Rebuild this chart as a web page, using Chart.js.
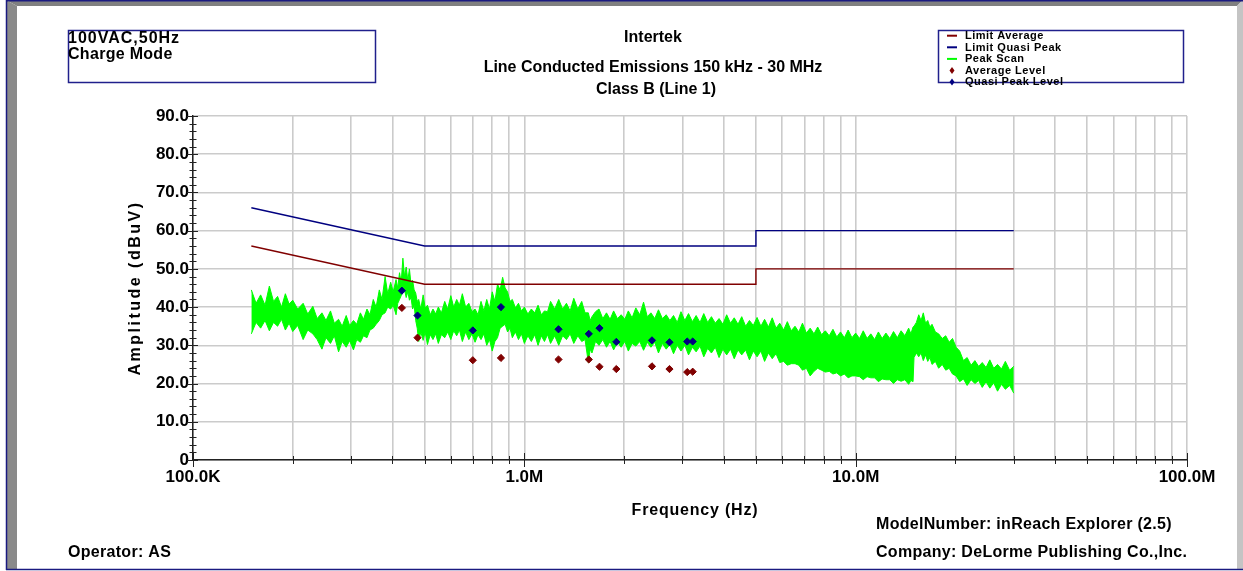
<!DOCTYPE html>
<html>
<head>
<meta charset="utf-8">
<title>Line Conducted Emissions</title>
<script src="https://cdn.jsdelivr.net/npm/chart.js@4.4.1/dist/chart.umd.min.js"></script>
<style>
  html, body { margin: 0; padding: 0; background: #fff; overflow: hidden; }
  canvas { display: block; }
</style>
</head>
<body>
<canvas id="emi" width="1243" height="571"></canvas>
<script>
// ---- Axis ticks (frequency in MHz, amplitude in dBuV) ----
const xDecades = [0.1, 1, 10, 100];
const xTickLabels = ['100.0K', '1.0M', '10.0M', '100.0M'];
const yTicks = [0, 10, 20, 30, 40, 50, 60, 70, 80, 90];
const yTickLabels = ['0', '10.0', '20.0', '30.0', '40.0', '50.0', '60.0', '70.0', '80.0', '90.0'];

// ---- CISPR 22 Class B limit lines ----
const limitFreq = [0.15, 0.5, 5, 5, 30];
const limitQuasiPeak = [66, 56, 56, 60, 60];
const limitAverage = [56, 46, 46, 50, 50];

// ---- Peak scan envelope (upper / lower edge of the swept trace) ----
const peakFreq = [
  0.150, 0.155, 0.160, 0.165, 0.170, 0.175, 0.180, 0.185, 0.190, 0.195,
  0.200, 0.207, 0.215, 0.222, 0.230, 0.237, 0.245, 0.252, 0.260, 0.267,
  0.275, 0.282, 0.290, 0.297, 0.305, 0.312, 0.320, 0.327, 0.335, 0.342,
  0.350, 0.357, 0.365, 0.372, 0.380, 0.387, 0.395, 0.402, 0.410, 0.415,
  0.420, 0.425, 0.430, 0.435, 0.440, 0.445, 0.450, 0.455, 0.460, 0.465,
  0.470, 0.475, 0.480, 0.487, 0.495, 0.502, 0.510, 0.520, 0.530, 0.540,
  0.550, 0.562, 0.575, 0.587, 0.600, 0.612, 0.625, 0.637, 0.650, 0.665,
  0.680, 0.695, 0.710, 0.725, 0.740, 0.755, 0.770, 0.785, 0.800, 0.815,
  0.830, 0.845, 0.860, 0.875, 0.890, 0.905, 0.920, 0.940, 0.960, 0.980,
  1.00, 1.025, 1.05, 1.075, 1.10, 1.125, 1.15, 1.175, 1.20, 1.235,
  1.27, 1.305, 1.34, 1.375, 1.41, 1.45, 1.49, 1.525, 1.56, 1.58,
  1.60, 1.64, 1.68, 1.725, 1.77, 1.815, 1.86, 1.91, 1.96, 2.01,
  2.06, 2.115, 2.17, 2.23, 2.29, 2.35, 2.41, 2.475, 2.54, 2.61,
  2.68, 2.75, 2.82, 2.895, 2.97, 3.05, 3.13, 3.215, 3.30, 3.39,
  3.48, 3.575, 3.67, 3.77, 3.87, 3.975, 4.08, 4.19, 4.30, 4.415,
  4.53, 4.655, 4.78, 4.91, 5.04, 5.175, 5.31, 5.455, 5.60, 5.75,
  5.90, 6.06, 6.22, 6.39, 6.56, 6.735, 6.91, 7.10, 7.29, 7.485,
  7.68, 7.89, 8.10, 8.32, 8.54, 8.77, 9.00, 9.245, 9.49, 9.745,
  10.0, 10.27, 10.54, 10.825, 11.11, 11.41, 11.71, 12.02, 12.34, 12.675,
  13.01, 13.36, 13.71, 14.08, 14.45, 14.68, 14.90, 15.00, 15.25, 15.50,
  15.75, 16.00, 16.25, 16.50, 16.75, 17.00, 17.40, 17.80, 18.25, 18.70,
  19.15, 19.60, 20.10, 20.60, 21.15, 21.70, 22.30, 22.90, 23.50, 24.10,
  24.75, 25.40, 26.10, 26.80, 27.55, 28.30, 29.15, 30.00];
const peakHigh = [
  44.5, 41.0, 43.2, 40.5, 45.5, 41.5, 42.8, 40.0, 43.5, 40.8,
  41.8, 39.5, 41.0, 38.2, 40.2, 37.0, 38.5, 36.5, 39.0, 35.8,
  36.8, 35.0, 37.8, 35.2, 36.5, 35.5, 38.5, 36.8, 39.5, 38.0,
  42.0, 40.0, 44.5, 42.0, 48.0, 43.5, 46.5, 44.0, 47.2, 45.0,
  49.0, 46.5, 52.8, 48.0, 50.5, 47.0, 50.0, 46.0, 47.0, 44.5,
  43.7, 41.5, 42.0, 39.5, 43.2, 39.8, 40.5, 38.0, 39.5, 38.2,
  40.0, 38.5, 41.5, 39.5, 43.0, 40.0, 42.0, 40.5, 43.5, 40.0,
  41.0, 38.8, 39.5, 38.0, 41.5, 39.0, 42.0, 39.5, 44.0, 41.5,
  46.0, 44.5, 47.8, 45.0, 44.0, 41.5, 42.0, 39.8, 41.0, 39.0,
  40.0, 38.2, 39.5, 38.5, 40.5, 38.0, 39.0, 38.8, 41.5, 39.5,
  42.0, 39.5, 41.0, 39.0, 42.3, 39.5, 41.5, 38.5, 38.5, 36.5,
  37.5, 38.8, 39.5, 37.0, 38.5, 36.8, 39.0, 37.0, 38.0, 36.8,
  39.0, 37.2, 39.8, 38.0, 41.3, 37.5, 38.5, 37.0, 39.3, 37.0,
  38.0, 36.5, 37.8, 36.0, 38.8, 36.5, 38.3, 36.2, 37.8, 36.0,
  38.3, 36.0, 37.5, 35.8, 37.0, 35.5, 38.0, 35.8, 37.2, 35.5,
  37.5, 35.0, 36.5, 35.2, 37.3, 35.0, 36.8, 34.8, 37.2, 34.5,
  35.8, 34.0, 36.2, 33.8, 35.0, 33.5, 35.8, 33.2, 34.5, 33.0,
  34.8, 32.8, 33.8, 32.5, 34.2, 32.2, 33.5, 32.0, 34.0, 32.0,
  33.2, 31.8, 33.8, 31.8, 33.0, 31.5, 33.5, 31.8, 33.2, 31.8,
  33.6, 32.0, 33.8, 32.5, 34.5, 33.0, 34.8, 35.0, 36.0, 38.0,
  36.5, 38.5, 35.8, 36.5, 34.8, 35.5, 33.5, 33.0, 31.8, 32.5,
  30.8, 31.8, 29.5, 28.5, 26.0, 26.8, 24.8, 26.0, 24.5, 25.5,
  24.2, 26.2, 24.0, 25.0, 23.8, 25.8, 23.5, 24.5];
const peakLow = [
  33.0, 36.0, 34.5, 36.5, 33.8, 36.0, 35.0, 36.8, 34.0, 35.8,
  33.6, 35.2, 31.5, 34.0, 33.0, 31.5, 29.0, 32.0, 30.5, 32.5,
  28.3, 31.0, 29.5, 31.2, 28.8, 31.5, 30.8, 32.5, 32.0, 34.0,
  34.5, 35.5, 36.5, 38.0, 38.5, 40.0, 39.5, 40.5, 38.0, 41.0,
  42.0, 43.0, 44.0, 44.5, 42.5, 44.0, 41.8, 42.5, 39.5, 40.5,
  36.5, 34.5, 31.0, 33.5, 31.3, 33.5, 30.2, 32.8, 31.5, 33.0,
  30.5, 32.8, 32.0, 33.5, 31.5, 33.8, 32.5, 34.0, 31.0, 33.5,
  31.5, 33.0, 30.8, 32.8, 31.5, 33.0, 30.0, 31.5, 28.5, 31.0,
  32.0, 34.5, 35.0, 35.5, 33.5, 34.5, 32.0, 33.5, 31.5, 33.0,
  30.5, 32.5, 31.0, 32.8, 30.0, 32.5, 31.0, 32.8, 30.5, 32.5,
  30.0, 32.5, 31.5, 33.0, 30.5, 32.5, 31.0, 31.5, 25.5, 29.0,
  28.0, 31.0, 30.0, 31.5, 29.5, 31.0, 28.8, 30.8, 29.5, 31.0,
  28.5, 30.5, 29.8, 31.0, 28.7, 30.8, 29.5, 30.8, 28.0, 30.5,
  29.0, 30.2, 27.8, 30.0, 28.5, 30.0, 27.5, 29.5, 28.3, 29.8,
  27.0, 29.2, 28.0, 29.5, 26.8, 29.0, 27.5, 29.0, 26.5, 28.8,
  27.5, 28.8, 26.2, 28.5, 27.0, 28.5, 25.8, 28.0, 26.5, 27.8,
  25.5, 25.8, 24.8, 25.2, 25.2, 24.8, 23.5, 24.0, 22.0, 23.2,
  24.0, 23.5, 23.0, 23.2, 22.5, 22.8, 22.0, 22.5, 21.5, 22.0,
  22.0, 21.8, 21.0, 21.8, 21.5, 21.5, 20.5, 21.2, 21.0, 21.0,
  20.0, 21.0, 20.6, 21.0, 19.8, 20.8, 20.5, 26.8, 28.0, 27.0,
  28.0, 26.0, 27.5, 25.8, 26.8, 25.0, 25.8, 24.0, 25.0, 23.5,
  24.0, 22.5, 22.0, 20.5, 21.2, 19.5, 21.0, 20.0, 20.8, 19.0,
  20.5, 18.8, 20.2, 18.0, 19.8, 18.5, 19.5, 17.5];

// ---- Final measurements ----
const measFreq = [0.427, 0.476, 0.699, 0.850, 1.268, 1.565, 1.686, 1.895, 2.428, 2.742, 3.102, 3.222];
const quasiPeakLevel = [44.3, 37.8, 33.9, 40.0, 34.2, 33.0, 34.5, 30.9, 31.3, 30.8, 31.0, 31.0];
const averageLevel = [39.8, 32.0, 26.1, 26.7, 26.3, 26.3, 24.4, 23.8, 24.5, 23.8, 23.0, 23.1];

// ---- Legend entries ----
const legendLabels = ['Limit Average', 'Limit Quasi Peak', 'Peak Scan', 'Average Level', 'Quasi Peak Level'];

const COL_AVG = '#800000';
const COL_QP = '#000080';
const COL_PEAK = '#00ff00';
const FONT = '"Liberation Sans", Arial, Helvetica, sans-serif';

const pts = (xs, ys) => xs.map((x, i) => ({ x, y: ys[i] }));
const xGrid = [];
xDecades.forEach((d, i) => {
  if (i < xDecades.length - 1) {
    for (let m = 1; m <= 9; m++) xGrid.push(d * m);
  } else {
    xGrid.push(d);
  }
});
const isDecade = v => xDecades.some(d => Math.abs(v - d) / d < 1e-6);

function drawText(ctx, s, x, y, o = {}) {
  ctx.save();
  ctx.font = `bold ${o.size || 16}px ${FONT}`;
  ctx.letterSpacing = (o.spacing || 0) + 'px';
  ctx.fillStyle = o.color || '#000';
  ctx.textAlign = o.align || 'left';
  ctx.textBaseline = 'alphabetic';
  ctx.translate(x, y);
  if (o.rotate) ctx.rotate(o.rotate);
  ctx.fillText(s, 0, 0);
  ctx.restore();
}

// Page frame, header boxes, legend, footer notes and axis tick marks
const pageDecor = {
  id: 'pageDecor',
  beforeDraw(chart) {
    const ctx = chart.ctx;
    const W = chart.width, H = chart.height;
    ctx.save();
    ctx.fillStyle = '#fff';
    ctx.fillRect(0, 0, W, H);
    // bevelled frame
    ctx.fillStyle = '#808080';
    ctx.beginPath();
    ctx.moveTo(6, 0); ctx.lineTo(W, 0); ctx.lineTo(W - 6, 6); ctx.lineTo(17, 6);
    ctx.closePath(); ctx.fill();
    ctx.fillStyle = '#8a8a8a';
    ctx.beginPath();
    ctx.moveTo(6, 0); ctx.lineTo(17, 6); ctx.lineTo(17, 569); ctx.lineTo(6, 569);
    ctx.closePath(); ctx.fill();
    ctx.fillStyle = '#c4c4c4';
    ctx.beginPath();
    ctx.moveTo(W, 0); ctx.lineTo(W, 569); ctx.lineTo(W - 6, 569); ctx.lineTo(W - 6, 6);
    ctx.closePath(); ctx.fill();
    ctx.strokeStyle = '#1a1a80';
    ctx.lineWidth = 1.5;
    ctx.beginPath();
    ctx.moveTo(6, 0.75); ctx.lineTo(W, 0.75);
    ctx.moveTo(6.5, 0); ctx.lineTo(6.5, 570);
    ctx.moveTo(6, 569.5); ctx.lineTo(W, 569.5);
    ctx.stroke();
    ctx.restore();
  },
  afterDraw(chart) {
    const ctx = chart.ctx;
    const xs = chart.scales.x, ys = chart.scales.y;
    const area = chart.chartArea;

    // axis tick marks
    ctx.save();
    ctx.strokeStyle = '#222';
    ctx.lineWidth = 1;
    ctx.beginPath();
    for (let v = 0; v <= 90; v += 2) {
      const py = Math.round(ys.getPixelForValue(v)) + 0.5;
      const major = v % 10 === 0;
      ctx.moveTo(area.left - (major ? 6 : 3.5), py);
      ctx.lineTo(area.left + (major ? 5 : 3.5), py);
    }
    xGrid.forEach(v => {
      const px = Math.round(xs.getPixelForValue(v)) + 0.5;
      const major = isDecade(v);
      ctx.moveTo(px, area.bottom - (major ? 7 : 4));
      ctx.lineTo(px, area.bottom + (major ? 7 : 4));
    });
    ctx.stroke();
    ctx.restore();

    // header
    drawText(ctx, 'Intertek', 653, 42, { size: 16, align: 'center' });
    drawText(ctx, 'Line Conducted Emissions 150 kHz - 30 MHz', 653, 72, { size: 16, align: 'center' });
    drawText(ctx, 'Class B (Line 1)', 656, 94, { size: 16, align: 'center' });

    // test condition box and legend box
    ctx.save();
    ctx.strokeStyle = '#20208c';
    ctx.lineWidth = 1.5;
    ctx.strokeRect(68.5, 30.5, 307, 52);
    ctx.strokeRect(938.5, 30.5, 245, 52);
    ctx.restore();
    drawText(ctx, '100VAC,50Hz', 68, 42.5, { size: 16, spacing: 1 });
    drawText(ctx, 'Charge Mode', 68, 59, { size: 16, spacing: 0.3 });

    // legend
    const colors = [COL_AVG, COL_QP, COL_PEAK, COL_AVG, COL_QP];
    legendLabels.forEach((label, i) => {
      const base = 39 + i * 11.6;
      const my = base - 3.3;
      ctx.save();
      ctx.fillStyle = colors[i];
      ctx.strokeStyle = colors[i];
      if (i < 3) {
        ctx.lineWidth = 2;
        ctx.beginPath();
        ctx.moveTo(947, my); ctx.lineTo(957, my);
        ctx.stroke();
      } else {
        ctx.beginPath();
        ctx.moveTo(952, my - 3.5); ctx.lineTo(954.5, my); ctx.lineTo(952, my + 3.5); ctx.lineTo(949.5, my);
        ctx.closePath(); ctx.fill();
      }
      ctx.restore();
      drawText(ctx, label, 965, base, { size: 11, spacing: 0.5 });
    });

    // axis titles
    drawText(ctx, 'Amplitude (dBuV)', 140, (area.top + area.bottom) / 2, { size: 16, spacing: 2.5, align: 'center', rotate: -Math.PI / 2 });
    drawText(ctx, 'Frequency (Hz)', 695, 515, { size: 16, spacing: 0.8, align: 'center' });

    // footer notes
    drawText(ctx, 'ModelNumber: inReach Explorer (2.5)', 876, 529, { size: 16, spacing: 0.3 });
    drawText(ctx, 'Company: DeLorme Publishing Co.,Inc.', 876, 557, { size: 16, spacing: 0.3 });
    drawText(ctx, 'Operator: AS', 68, 557, { size: 16, spacing: 0.3 });
  }
};

const lineBase = { pointRadius: 0, tension: 0, borderWidth: 1.4, fill: false };

new Chart(document.getElementById('emi'), {
  type: 'line',
  data: {
    datasets: [
      { label: legendLabels[4], data: pts(measFreq, quasiPeakLevel), showLine: false, pointStyle: 'rectRot',
        pointRadius: 3.6, backgroundColor: COL_QP, borderColor: COL_QP, borderWidth: 1, order: 0 },
      { label: legendLabels[3], data: pts(measFreq, averageLevel), showLine: false, pointStyle: 'rectRot',
        pointRadius: 3.6, backgroundColor: COL_AVG, borderColor: COL_AVG, borderWidth: 1, order: 1 },
      { label: legendLabels[1], data: pts(limitFreq, limitQuasiPeak), borderColor: COL_QP, ...lineBase, order: 2 },
      { label: legendLabels[0], data: pts(limitFreq, limitAverage), borderColor: COL_AVG, ...lineBase, order: 3 },
      { label: legendLabels[2], data: pts(peakFreq, peakHigh), borderColor: COL_PEAK, pointRadius: 0,
        tension: 0, borderWidth: 1, fill: false, order: 4 },
      { label: legendLabels[2] + ' (lower edge)', data: pts(peakFreq, peakLow), borderColor: COL_PEAK,
        backgroundColor: COL_PEAK, pointRadius: 0, tension: 0, borderWidth: 1, fill: 4, order: 5 }
    ]
  },
  options: {
    responsive: false,
    animation: false,
    devicePixelRatio: 1,
    events: [],
    layout: { padding: { left: 0, top: 116, right: 56, bottom: 0 } },
    plugins: { legend: { display: false }, tooltip: { enabled: false }, title: { display: false } },
    scales: {
      x: {
        type: 'logarithmic',
        min: xDecades[0],
        max: xDecades[xDecades.length - 1],
        afterBuildTicks(scale) { scale.ticks = xGrid.map(v => ({ value: v, major: isDecade(v) })); },
        afterFit(scale) { scale.height = 111; },
        ticks: {
          autoSkip: false, maxRotation: 0, minRotation: 0, padding: 7, color: '#000',
          font: { family: FONT, size: 17, weight: 'bold' },
          callback(value) {
            const i = xDecades.findIndex(d => Math.abs(value - d) / d < 1e-6);
            return i >= 0 ? xTickLabels[i] : '';
          }
        },
        grid: { color: '#cbcbcb', lineWidth: 1.6, drawTicks: false },
        border: { display: true, color: '#222', width: 1.5 }
      },
      y: {
        type: 'linear',
        min: yTicks[0],
        max: yTicks[yTicks.length - 1],
        afterBuildTicks(scale) { scale.ticks = yTicks.map(v => ({ value: v })); },
        afterFit(scale) { scale.width = 193; },
        ticks: {
          padding: 4, color: '#000',
          font: { family: FONT, size: 17, weight: 'bold' },
          callback(value) {
            const i = yTicks.indexOf(value);
            return i >= 0 ? yTickLabels[i] : '';
          }
        },
        grid: { color: '#cbcbcb', lineWidth: 1.6, drawTicks: false },
        border: { display: true, color: '#222', width: 1.5 }
      }
    }
  },
  plugins: [pageDecor]
});
</script>
</body>
</html>
